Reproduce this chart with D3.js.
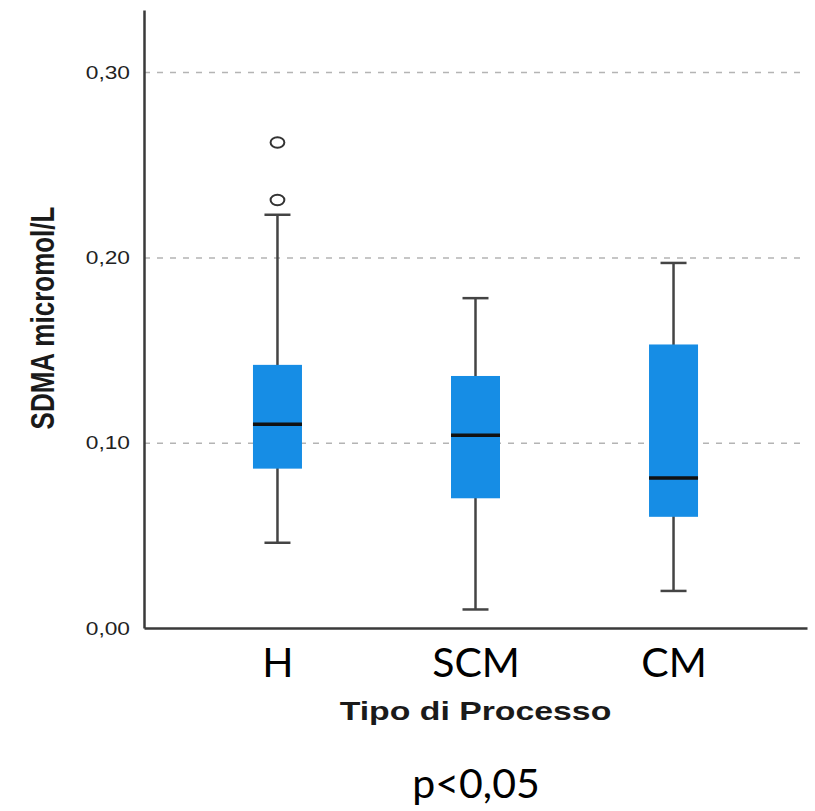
<!DOCTYPE html>
<html>
<head>
<meta charset="utf-8">
<script src="https://cdn.jsdelivr.net/npm/d3@7"></script>
<style>
  html, body { margin: 0; padding: 0; background: #fff; }
  svg { display: block; }
</style>
</head>
<body>
<div id="chart"></div>
<script>
// box plot values (SDMA micromol/L)
var categories = ['H', 'SCM', 'CM'];
var whiskerLow = [0.046, 0.010, 0.020];
var q1 = [0.086, 0.070, 0.060];
var median = [0.110, 0.104, 0.081];
var q3 = [0.142, 0.136, 0.153];
var whiskerHigh = [0.223, 0.178, 0.197];
var outliers = [[0.262, 0.231], [], []];
var yTicks = [0, 0.1, 0.2, 0.3];

var width = 815, height = 811;
var margin = {top: 10, right: 8, bottom: 183, left: 144};
var stretch = 1.3; // the original SPSS graphic is stretched horizontally

var svg = d3.select('#chart').append('svg')
    .attr('width', width)
    .attr('height', height);

var x = d3.scalePoint()
    .domain(categories)
    .range([margin.left, width - margin.right])
    .padding(0.674);

var y = d3.scaleLinear()
    .domain([0, 0.3335])
    .range([height - margin.bottom, margin.top]);

var fmt = d3.formatLocale({decimal: ',', thousands: '.', grouping: [3], currency: ['', '']}).format('.2f');

var boxes = categories.map(function(c, i) {
    return {
        name: c,
        low: whiskerLow[i],
        q1: q1[i],
        median: median[i],
        q3: q3[i],
        high: whiskerHigh[i],
        outliers: outliers[i]
    };
});

// grid lines
svg.append('g')
    .attr('class', 'grid')
    .attr('transform', 'translate(' + margin.left + ',0)')
    .call(d3.axisLeft(y)
        .tickValues(yTicks.filter(function(t) { return t > 0; }))
        .tickSize(-(width - margin.right - margin.left - 1))
        .tickFormat(''))
    .call(function(g) { g.select('.domain').remove(); })
    .selectAll('line')
    .attr('stroke', '#b4b4b4')
    .attr('stroke-width', 1.5)
    .attr('stroke-dasharray', '6,7');

var boxW = 49, capW = 26;

var groups = svg.selectAll('.box')
    .data(boxes)
    .enter()
    .append('g')
    .attr('class', 'box');

// whiskers
groups.append('line')
    .attr('x1', function(d) { return x(d.name); })
    .attr('x2', function(d) { return x(d.name); })
    .attr('y1', function(d) { return y(d.high); })
    .attr('y2', function(d) { return y(d.low); })
    .attr('stroke', '#444')
    .attr('stroke-width', 2.5);

['high', 'low'].forEach(function(k) {
    groups.append('line')
        .attr('x1', function(d) { return x(d.name) - capW / 2; })
        .attr('x2', function(d) { return x(d.name) + capW / 2; })
        .attr('y1', function(d) { return y(d[k]); })
        .attr('y2', function(d) { return y(d[k]); })
        .attr('stroke', '#444')
        .attr('stroke-width', 2.5);
});

groups.append('rect')
    .attr('x', function(d) { return x(d.name) - boxW / 2; })
    .attr('width', boxW)
    .attr('y', function(d) { return y(d.q3); })
    .attr('height', function(d) { return y(d.q1) - y(d.q3); })
    .attr('fill', '#168de5');

groups.append('line')
    .attr('x1', function(d) { return x(d.name) - boxW / 2; })
    .attr('x2', function(d) { return x(d.name) + boxW / 2; })
    .attr('y1', function(d) { return y(d.median); })
    .attr('y2', function(d) { return y(d.median); })
    .attr('stroke', '#111')
    .attr('stroke-width', 3.5);

groups.selectAll('ellipse')
    .data(function(d) { return d.outliers.map(function(v) { return {name: d.name, value: v}; }); })
    .enter()
    .append('ellipse')
    .attr('cx', function(d) { return x(d.name); })
    .attr('cy', function(d) { return y(d.value); })
    .attr('rx', 5.3 * stretch)
    .attr('ry', 5.3)
    .attr('fill', 'none')
    .attr('stroke', '#333')
    .attr('stroke-width', 2);

// y axis
var yAxis = svg.append('g')
    .attr('transform', 'translate(' + margin.left + ',0)')
    .call(d3.axisLeft(y).tickValues(yTicks).tickFormat(fmt).tickSize(0));

yAxis.select('.domain')
    .attr('stroke', '#3a3a3a')
    .attr('stroke-width', 2.5);

yAxis.selectAll('text')
    .attr('x', null)
    .attr('dy', '0.36em')
    .attr('transform', 'translate(-14,0) scale(' + stretch + ',1)')
    .attr('font-family', '"Liberation Sans", Arial, sans-serif')
    .attr('font-size', 17.5)
    .attr('fill', '#222');

// x axis
var xAxis = svg.append('g')
    .attr('transform', 'translate(0,' + y(0) + ')')
    .call(d3.axisBottom(x).tickSize(0));

xAxis.select('.domain')
    .attr('stroke', '#3a3a3a')
    .attr('stroke-width', 2.5);

xAxis.selectAll('text')
    .attr('y', 49)
    .attr('dy', null)
    .attr('font-family', 'Lato, "Open Sans", sans-serif')
    .attr('font-size', 41)
    .attr('fill', '#000');

// titles
svg.append('text')
    .attr('transform', 'translate(' + ((margin.left + width - margin.right) / 2) + ',720) scale(' + stretch + ',1)')
    .attr('text-anchor', 'middle')
    .attr('font-family', '"Liberation Sans", Arial, sans-serif')
    .attr('font-weight', 'bold')
    .attr('font-size', 26)
    .attr('fill', '#1a1a1a')
    .text('Tipo di Processo');

svg.append('text')
    .attr('transform', 'translate(54,318) scale(' + stretch + ',1) rotate(-90)')
    .attr('text-anchor', 'middle')
    .attr('font-family', '"Liberation Sans", Arial, sans-serif')
    .attr('font-weight', 'bold')
    .attr('font-size', 26)
    .attr('fill', '#1a1a1a')
    .text('SDMA micromol/L');

svg.append('text')
    .attr('x', 476)
    .attr('y', 798)
    .attr('text-anchor', 'middle')
    .attr('font-family', 'Lato, "Open Sans", sans-serif')
    .attr('font-size', 41)
    .attr('fill', '#000')
    .text('p<0,05');
</script>
</body>
</html>
